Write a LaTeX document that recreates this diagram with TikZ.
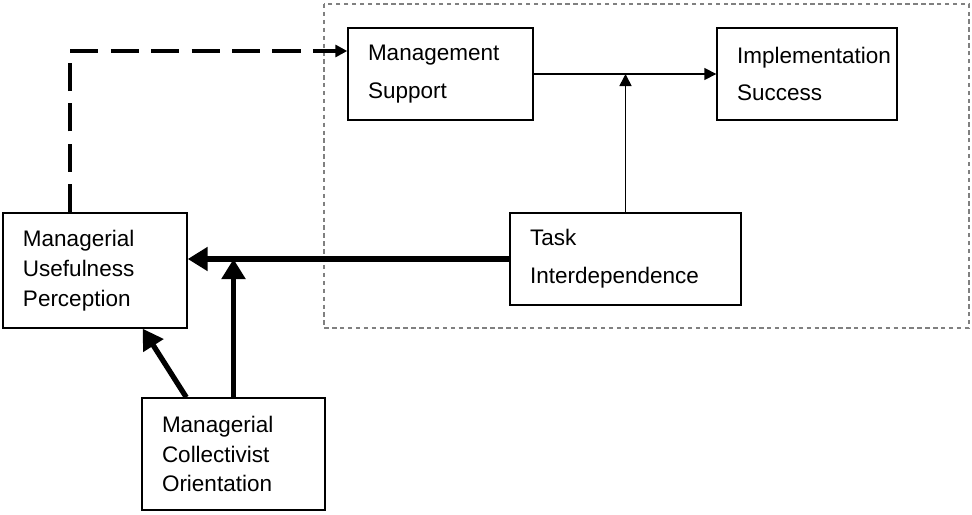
\documentclass[tikz,border=0pt]{standalone}
\usepackage{fontspec}
\setmainfont{Liberation Sans}
\usepackage{tikz}
\usetikzlibrary{arrows.meta}

\begin{document}
\begin{tikzpicture}[
  every node/.style={draw, line width=0.8pt, align=left, inner xsep=0.4cm, inner ysep=0pt, font=\fontsize{12.8}{17}\selectfont},
  twoline/.style={font=\fontsize{12.8}{21.5}\selectfont, minimum height=1.84cm},
  link/.style={-{Triangle[length=0.24cm, width=0.24cm]}, line width=0.9pt},
  heavy/.style={-{Triangle[length=0.4cm, width=0.46cm]}, line width=3pt},
  hint/.style={-{Triangle[length=0.24cm, width=0.24cm]}, line width=1.8pt, dash pattern=on 16pt off 7pt},
  frame/.style={draw=gray, line width=1.3pt, dash pattern=on 2.5pt off 2pt},
]
\useasboundingbox (0,0) rectangle (19.44,-10.28);

%% Moderated part
\draw[frame] (6.48,-0.08) rectangle (19.38,-6.56);

%% Nodes
\node[twoline, text width=2.9cm]  (MS)   at (8.81,-1.48)  {Management\\Support};
\node[twoline, text width=2.8cm]  (IS)   at (16.14,-1.48) {Implementation\\Success};
\node[twoline, text width=3.82cm] (Task) at (12.51,-5.18) {Task\\Interdependence};
\node[text width=2.88cm, minimum height=2.3cm]  (MUP) at (1.90,-5.41) {Managerial\\Usefulness\\Perception};
\node[text width=2.86cm, minimum height=2.24cm] (MCO) at (4.67,-9.08) {Managerial\\Collectivist\\Orientation};

%% Junctions
\coordinate (j1) at (MS.east -| Task.north);
\coordinate (j2) at (Task.west -| MCO.north);
\coordinate (d1) at ([xshift=0.9cm]MCO.north west);
\coordinate (d2) at ([xshift=-0.9cm]MUP.south east);
\coordinate (d3) at ([xshift=-0.5cm]MUP.north);

%% Thin links
\draw[link] (MS.east) -- (IS.west);
\draw[link] (Task.north) -- (j1);

%% Heavy links
\draw[heavy] (Task.west) -- (Task.west -| MUP.east);
\draw[heavy] (MCO.north) -- (j2);
\draw[heavy] (d1) -- (d2);

%% Feedback
\draw[hint] (d3) |- ([yshift=0.46cm]MS.west);

\end{tikzpicture}
\end{document}
